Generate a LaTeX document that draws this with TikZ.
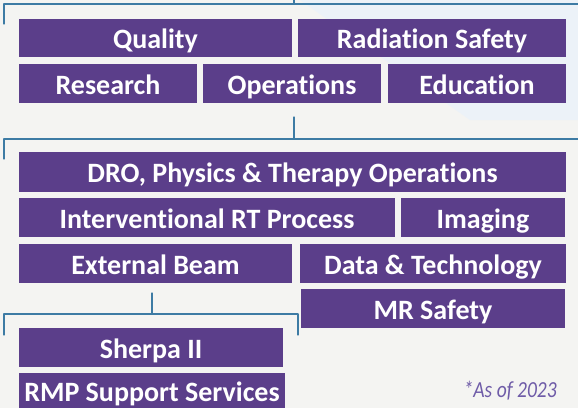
\documentclass[tikz,border=0pt]{standalone}
\usepackage{fontspec}
\setmainfont{Carlito}[Ligatures=NoCommon]
\newfontfamily\notefont[FakeStretch=0.85,Ligatures=NoCommon]{Carlito}
\definecolor{unitpurple}{HTML}{5B3E8A}
\definecolor{linkblue}{HTML}{3D7BA4}
\definecolor{notepurple}{HTML}{6F5CA8}
\definecolor{paper}{HTML}{F4F4F2}
\definecolor{tint}{HTML}{ECF2F8}
\begin{document}
\begin{tikzpicture}[x=1pt,y=-1pt,line join=round,line cap=round]
  \tikzset{unit/.style={fill=unitpurple,text=white,inner sep=0pt,text height=21pt,text depth=0pt,
                        font=\fontsize{28}{30}\selectfont\bfseries},
           link/.style={draw=linkblue,line width=1.2pt},
           note/.style={text=notepurple,inner sep=0pt,font=\notefont\fontsize{23}{25}\selectfont\itshape}}
  \fill[paper] (0,0) rectangle (578,408);
  \fill[tint] (300,0) -- (578,0) -- (578,120) -- (470,120) -- cycle;
  \useasboundingbox (0,0) rectangle (578,408);
  % units
  \foreach \nm/\xa/\ya/\xb/\yb/\txt in {
      quality/19/19/292/57/{Quality},
      radsafe/298/19/566/57/{Radiation Safety},
      research/19/64/197/103/{Research},
      ops/203/64/381/103/{Operations},
      edu/388/64/566/103/{Education},
      dro/19/152/566/192/{DRO, Physics \& Therapy Operations},
      irt/19/198/395/237/{Interventional RT Process},
      imaging/401/198/565/237/{Imaging},
      extbeam/19/244/292/283/{External Beam},
      datatech/300/244/566/283/{Data \& Technology},
      mrsafe/301/289/565/328/{MR Safety},
      sherpa/19/328/283/367/{Sherpa II},
      rmp/19/373/285/408/{RMP Support Services}}
    \node[unit,minimum width={(\xb-\xa)*1pt},minimum height={(\yb-\ya)*1pt}] (\nm) at ({(\xa+\xb)/2},{(\ya+\yb)/2}) {\txt};
  % brackets
  \coordinate (topin) at (294,0);
  \coordinate (topfork) at (294,4);
  \draw[link] (topin) -- (topfork);
  \draw[link] (4,24) |- (578,4);
  \coordinate (midin) at (294,117);
  \coordinate (midfork) at (294,139);
  \draw[link] (midin) -- (midfork);
  \draw[link] (4,159) |- (578,139);
  \coordinate (lowin) at (152,293);
  \coordinate (lowfork) at (152,314);
  \draw[link] (lowin) -- (lowfork);
  \draw[link] (4,335) |- (298,314) -- (298,335);
  \node[note,anchor=base east] (asof) at (557,397) {*As of 2023};
\end{tikzpicture}
\end{document}
